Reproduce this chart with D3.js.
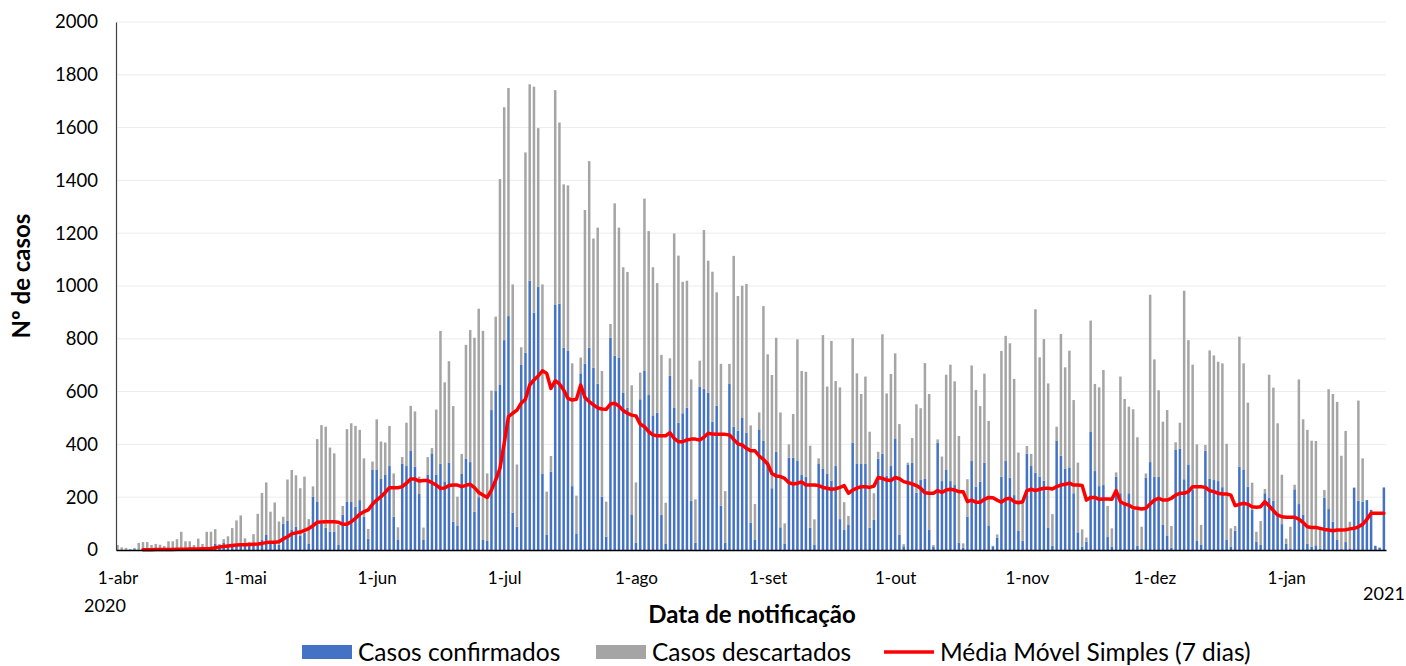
<!DOCTYPE html>
<html>
<head>
<meta charset="utf-8">
<script src="https://cdn.jsdelivr.net/npm/d3@7"></script>
<style>
  body { margin: 0; background: #fff; }
  svg { display: block; font-family: Lato, "Open Sans", sans-serif; }
</style>
</head>
<body>
<svg id="chart" width="1406" height="666"></svg>
<script>
// daily series, first day = 1-abr-2020
const startDay = Date.UTC(2020, 3, 1);

const confirmed = [
  2,1,1,1,3,2,3,2,2,3, 2,2,3,4,3,4,5,5,4,6, 5,8,10,23,12,28,15,18,22,25,
  20,15,22,28,38,57,25,30,20,99, 110,76,88,53,66,23,201,182,100,84,
  70,70,19,134,182,182,164,189,126,43, 303,303,269,284,318,126,40,326,318,375,
  315,212,40,286,366,286,327,260,330,107, 91,288,345,333,145,200,38,34,530,602,
  625,795,886,141,88,701,747,1020,899,997, 288,57,297,928,933,766,754,242,63,669,
  706,766,691,630,202,51,804,736,729,595, 539,135,28,571,678,587,510,520,133,25,
  660,540,482,518,539,186,28,619,611,596, 486,547,168,28,629,467,452,500,445,104,
  38,457,413,335,234,372,86,23,350,350, 337,284,278,85,19,328,309,290,263,318,
  117,76,95,407,328,326,326,85,114,346, 364,282,318,423,57,14,322,331,217,265,
  269,76,13,407,261,303,261,246,28,9, 126,337,240,259,331,91,14,47,278,337,
  274,208,72,35,365,318,293,278,263,85, 16,413,357,309,313,215,67,13,32,447,
  299,242,246,49,13,277,215,183,215,152, 16,4,273,333,277,277,95,53,9,379,
  383,268,322,230,34,21,376,271,265,261, 238,40,13,73,316,303,240,152,32,19,
  215,199,187,139,98,24,6,230,174,133, 23,13,18,6,198,155,107,38,5,30,
  6,236,187,183,189,152,16,9,237
];

const discarded = [
  17,9,7,3,5,25,27,28,17,20, 18,13,30,29,38,65,28,28,15,37, 18,61,59,56,11,13,37,65,90,106,
  24,15,38,109,178,199,120,150,88,27, 157,227,195,181,212,94,40,238,373,383,
  318,296,76,33,276,298,306,266,221,37, 32,192,142,123,152,164,46,26,164,171,
  210,66,45,66,20,246,503,375,385,438, 111,76,432,500,659,714,792,256,74,282,
  780,882,864,865,236,67,759,744,856,601, 718,164,59,814,686,619,627,465,143,60,
  582,707,489,591,476,132,52,577,492,476, 514,489,228,101,653,621,561,491,606,154,
  66,659,633,498,481,460,164,98,601,500, 568,429,537,195,76,647,510,501,563,368,
  136,64,511,406,429,432,435,78,50,165, 461,394,397,310,97,19,505,329,529,322,
  499,105,34,395,341,265,331,363,101,26, 453,311,349,322,420,8,9,93,335,272,
  439,515,6,12,93,361,441,393,404,16, 142,362,366,286,337,398,2,12,476,474,
  509,440,297,144,29,46,619,452,536,546, 120,54,461,383,442,353,264,65,15,422,
  330,374,436,118,69,17,442,389,328,381, 411,84,17,634,445,328,391,477,82,29,
  99,714,473,472,366,74,22,485,472,452, 469,362,69,18,492,404,318,103,37,91,
  16,465,428,341,187,19,82,17,472,362, 432,401,395,76,29,454,484,523,352,421,
  101,1,379,164,0,0,0,0,0
];

// média móvel simples (7 dias)
const movingAvg = [
  null,null,null,null,null,null,1,1,1,2, 2,2,2,2,3,3,3,4,4,4, 5,5,6,9,11,13,15,17,19,20,
  20,21,22,23,25,28,29,29,31,42, 50,61,65,68,74,81,92,105,106,107,
  107,107,105,98,98,107,120,135,145,152, 173,189,202,218,236,236,236,240,253,269,
  269,261,263,263,255,246,234,235,244,246, 246,240,245,249,236,218,208,199,227,265,
  309,404,505,518,530,556,571,625,644,659, 679,669,612,641,629,606,574,568,571,625,
  578,562,550,538,534,533,553,556,545,528, 518,511,508,477,467,448,436,433,433,433,
  444,423,410,410,417,420,420,417,427,442, 439,438,438,438,436,419,402,398,385,376,
  376,356,343,326,290,280,278,271,255,250, 253,258,246,246,246,244,237,234,230,232,
  237,244,215,227,234,240,240,237,242,275, 271,265,263,275,270,259,255,250,244,234,
  217,215,215,225,218,227,230,227,221,221, 183,189,181,181,192,199,198,189,181,193,
  196,183,179,183,225,230,225,230,234,234, 231,240,246,249,253,246,246,244,189,199,
  199,192,193,193,192,225,183,174,170,160, 158,155,158,174,189,196,189,189,196,208,
  215,215,221,240,240,240,237,225,221,215, 212,212,208,168,173,177,173,164,162,164,
  183,167,149,133,126,124,124,124,117,104, 88,85,85,82,78,76,73,76,76,77,
  80,82,88,97,116,139,139,139,139
];

const monthTicks = ["2020-04-01","2020-05-01","2020-06-01","2020-07-01","2020-08-01",
  "2020-09-01","2020-10-01","2020-11-01","2020-12-01","2021-01-01"];
const monthLabels = ["1-abr","1-mai","1-jun","1-jul","1-ago","1-set","1-out","1-nov","1-dez","1-jan"];
const yTicks = [0,200,400,600,800,1000,1200,1400,1600,1800,2000];

const colors = { confirmed: "#4472C4", discarded: "#A5A5A5", avg: "#FF0000" };

const DAY = 86400000;
const rows = confirmed.map((c, i) => ({
  date: new Date(startDay + i * DAY),
  confirmed: c,
  discarded: discarded[i],
  avg: movingAvg[i],
}));

const svg = d3.select("#chart");
const plotLeft = 116, plotRight = 1386, plotTop = 22, plotBottom = 550;

const x = d3.scaleUtc()
  .domain([new Date(startDay - 0.35 * DAY), new Date(startDay + 298.5 * DAY)])
  .range([plotLeft, plotRight]);

const y = d3.scaleLinear().domain([0, 2000]).range([plotBottom, plotTop]);

// gridlines
svg.append("g")
  .selectAll("line")
  .data(yTicks.slice(1))
  .join("line")
  .attr("x1", plotLeft).attr("x2", plotRight)
  .attr("y1", (d) => y(d)).attr("y2", (d) => y(d))
  .attr("stroke", "#ECECEC").attr("stroke-width", 1);

// stacked bars
const series = d3.stack().keys(["confirmed", "discarded"])(rows);
const barW = 2.5;

svg.append("g")
  .selectAll("g")
  .data(series)
  .join("g")
  .attr("fill", (s) => colors[s.key])
  .selectAll("rect")
  .data((s) => s)
  .join("rect")
  .attr("x", (d) => x(d.data.date) - barW / 2)
  .attr("y", (d) => y(d[1]))
  .attr("width", barW)
  .attr("height", (d) => Math.max(0, y(d[0]) - y(d[1])));

// moving average line
const line = d3.line()
  .defined((d) => d.avg != null)
  .x((d) => x(d.date))
  .y((d) => y(d.avg));

svg.append("path")
  .datum(rows)
  .attr("d", line)
  .attr("fill", "none")
  .attr("stroke", colors.avg)
  .attr("stroke-width", 3.5)
  .attr("stroke-linejoin", "round")
  .attr("stroke-linecap", "round");

// y axis
const yAxis = svg.append("g")
  .attr("transform", "translate(" + plotLeft + ",0)")
  .call(d3.axisLeft(y).tickValues(yTicks).tickFormat(d3.format("d")).tickSize(0).tickPadding(18));
yAxis.select(".domain").attr("stroke", "#404040").attr("stroke-width", 1.2);
yAxis.selectAll("text").attr("font-size", 18.5).attr("fill", "#000").attr("font-family", "Lato");

// x axis
const xAxis = svg.append("g")
  .attr("transform", "translate(0," + plotBottom + ")")
  .call(
    d3.axisBottom(x)
      .tickValues(monthTicks.map((s) => new Date(s + "T00:00:00Z")))
      .tickFormat((d, i) => monthLabels[i])
      .tickSize(0)
      .tickPadding(22)
  );
xAxis.select(".domain").attr("stroke", "#000").attr("stroke-width", 1.6);
xAxis.selectAll("text").attr("font-size", 17).attr("fill", "#000").attr("font-family", "Lato");

svg.append("text").attr("x", 105).attr("y", 612)
  .attr("text-anchor", "middle").attr("font-size", 18).text("2020");
svg.append("text").attr("x", 1384).attr("y", 600)
  .attr("text-anchor", "middle").attr("font-size", 18).text("2021");

// axis titles
svg.append("text")
  .attr("x", 752).attr("y", 623)
  .attr("text-anchor", "middle")
  .attr("font-size", 24).attr("font-weight", "bold")
  .text("Data de notificação");

svg.append("text")
  .attr("transform", "translate(30,276) rotate(-90)")
  .attr("text-anchor", "middle")
  .attr("font-size", 24).attr("font-weight", "bold")
  .text("Nº de casos");

// legend
const legendItems = [
  { label: "Casos confirmados", color: colors.confirmed, type: "rect", x: 302 },
  { label: "Casos descartados", color: colors.discarded, type: "rect", x: 596 },
  { label: "Média Móvel Simples (7 dias)", color: colors.avg, type: "line", x: 884 },
];
const legend = svg.append("g").attr("transform", "translate(0,652)");
legendItems.forEach((d) => {
  const g = legend.append("g").attr("transform", "translate(" + d.x + ",0)");
  if (d.type === "rect") {
    g.append("rect").attr("x", 0).attr("y", -7).attr("width", 50).attr("height", 14).attr("fill", d.color);
  } else {
    g.append("line").attr("x1", 0).attr("x2", 50).attr("y1", 0).attr("y2", 0)
      .attr("stroke", d.color).attr("stroke-width", 3.5);
  }
  g.append("text").attr("x", 56).attr("y", 9).attr("font-size", 24.5).attr("fill", "#000").text(d.label);
});
</script>
</body>
</html>
